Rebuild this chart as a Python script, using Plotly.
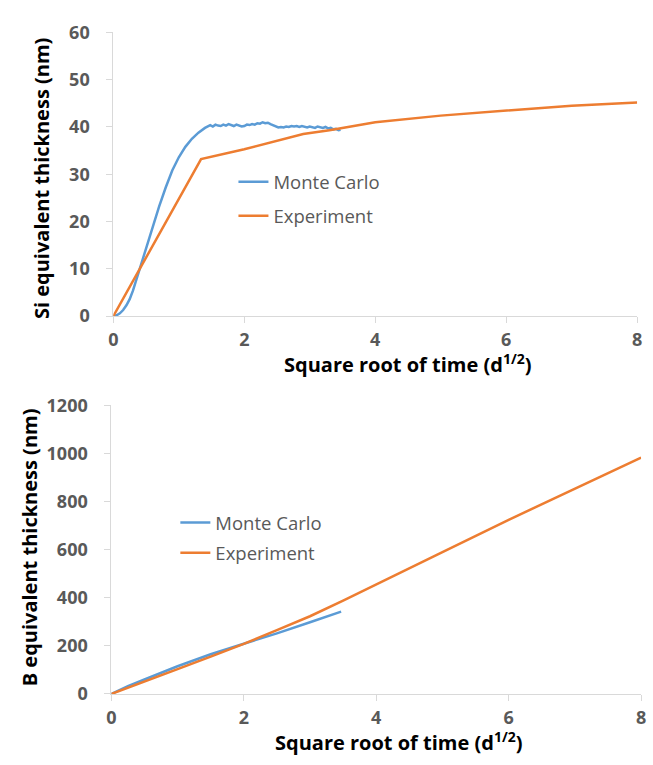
import plotly.graph_objects as go

# ---- Si equivalent thickness (top panel) ----
si_mc_x = [0, 0.05, 0.1, 0.15, 0.2, 0.25, 0.3, 0.35, 0.4, 0.5, 0.6, 0.7, 0.8, 0.9, 1.0,
           1.1, 1.2, 1.3, 1.4, 1.45, 1.48, 1.52, 1.56, 1.6, 1.64, 1.68, 1.72, 1.76, 1.8,
           1.84, 1.88, 1.92, 1.96, 2.0, 2.04, 2.08, 2.12, 2.16, 2.2, 2.24, 2.28, 2.32,
           2.36, 2.4, 2.44, 2.48, 2.52, 2.56, 2.6, 2.64, 2.68, 2.72, 2.76, 2.8, 2.84,
           2.88, 2.92, 2.96, 3.0, 3.04, 3.08, 3.12, 3.16, 3.2, 3.24, 3.28, 3.32, 3.36,
           3.4, 3.44, 3.47]
si_mc_y = [0, 0.2, 0.6, 1.3, 2.3, 3.6, 5.4, 7.6, 10.0, 14.6, 19.0, 23.2, 27.2, 30.8, 33.6,
           35.8, 37.5, 38.8, 39.8, 40.2, 40.4, 40.1, 40.5, 40.3, 40.2, 40.5, 40.3, 40.6, 40.4,
           40.2, 40.5, 40.3, 40.1, 40.2, 40.5, 40.4, 40.6, 40.5, 40.8, 40.7, 41.0, 40.8,
           40.9, 40.6, 40.4, 40.1, 39.9, 40.0, 39.9, 40.1, 40.0, 40.2, 40.1, 40.2, 40.0,
           40.2, 40.1, 39.9, 40.1, 40.0, 39.8, 40.1, 39.9, 39.8, 40.0, 39.7, 39.8, 39.5,
           39.6, 39.3, 39.4]

si_exp_x = [0, 1.34, 2.0, 2.5, 2.9, 3.3, 4.0, 5.0, 6.0, 7.0, 8.0]
si_exp_y = [0, 33.2, 35.3, 37.0, 38.5, 39.3, 41.0, 42.4, 43.5, 44.5, 45.2]

# ---- B equivalent thickness (bottom panel) ----
b_mc_x = [0, 0.25, 0.5, 1.0, 1.5, 2.0, 2.5, 3.0, 3.47]
b_mc_y = [0, 32, 60, 115, 165, 208, 252, 298, 342]

b_exp_x = [0, 0.5, 1.0, 1.5, 2.0, 2.5, 3.0, 3.5, 4.0, 5.0, 6.0, 7.0, 8.0]
b_exp_y = [0, 50, 103, 155, 208, 265, 323, 388, 456, 590, 724, 853, 982]

x_ticks = [0, 2, 4, 6, 8]
si_ticks = [0, 10, 20, 30, 40, 50, 60]
b_ticks = [0, 200, 400, 600, 800, 1000, 1200]

x_title = "Square root of time (d<sup>1/2</sup>)"
si_title = "Si equivalent thickness (nm)"
b_title = "B equivalent thickness (nm)"

BLUE = "#5B9BD5"
ORANGE = "#ED7D31"
GRAY = "#595959"
AXIS = "#D9D9D9"
FONT = "Open Sans"

W, H = 653, 765


def px_x(p):
    return p / W


def px_y(p):
    return 1 - p / H


fig = go.Figure()

fig.add_trace(go.Scatter(x=si_mc_x, y=si_mc_y, mode="lines", name="Monte Carlo",
                         line=dict(color=BLUE, width=2.5), xaxis="x", yaxis="y",
                         legend="legend", legendgroup="si_mc"))
fig.add_trace(go.Scatter(x=si_exp_x, y=si_exp_y, mode="lines", name="Experiment",
                         line=dict(color=ORANGE, width=2.5), xaxis="x", yaxis="y",
                         legend="legend", legendgroup="si_exp"))
fig.add_trace(go.Scatter(x=b_mc_x, y=b_mc_y, mode="lines", name="Monte Carlo",
                         line=dict(color=BLUE, width=2.5), xaxis="x2", yaxis="y2",
                         legend="legend2", legendgroup="b_mc"))
fig.add_trace(go.Scatter(x=b_exp_x, y=b_exp_y, mode="lines", name="Experiment",
                         line=dict(color=ORANGE, width=2.5), xaxis="x2", yaxis="y2",
                         legend="legend2", legendgroup="b_exp"))

tick_font = dict(family=FONT, size=18, color=GRAY, weight="bold")
axis_common = dict(showgrid=False, zeroline=False, showline=True, linecolor=AXIS,
                   linewidth=1, ticks="outside", tickcolor=AXIS, ticklen=6,
                   tickfont=tick_font)
legend_font = dict(family=FONT, size=18.5, color=GRAY)

fig.update_layout(
    width=W, height=H,
    margin=dict(l=0, r=0, t=0, b=0),
    paper_bgcolor="white", plot_bgcolor="white",
    showlegend=True,
    xaxis=dict(domain=[px_x(110), px_x(642)], range=[0, 8], tickvals=x_ticks,
               anchor="y", ticklabelstandoff=1, **axis_common),
    yaxis=dict(domain=[px_y(313), px_y(20)], range=[0, 60], tickvals=si_ticks,
               anchor="x", ticklabelstandoff=13, **axis_common),
    xaxis2=dict(domain=[px_x(108), px_x(646)], range=[0, 8], tickvals=x_ticks,
                anchor="y2", ticklabelstandoff=1, **axis_common),
    yaxis2=dict(domain=[px_y(703), px_y(405)], range=[0, 1200], tickvals=b_ticks,
                anchor="x2", ticklabelstandoff=13, **axis_common),
    legend=dict(x=px_x(232), y=px_y(155), xanchor="left", yanchor="top",
                bgcolor="rgba(0,0,0,0)", traceorder="grouped", tracegroupgap=7,
                font=legend_font),
    legend2=dict(x=px_x(173), y=px_y(507), xanchor="left", yanchor="top",
                 bgcolor="rgba(0,0,0,0)", traceorder="grouped", tracegroupgap=3,
                 font=legend_font),
)

title_font = dict(family=FONT, size=20, color="#000000", weight="bold")
annotations = [
    dict(text=x_title, x=px_x(409), y=px_y(362)),
    dict(text=x_title, x=px_x(400), y=px_y(752)),
    dict(text=si_title, x=px_x(37), y=px_y(171), textangle=-90),
    dict(text=b_title, x=px_x(25), y=px_y(552), textangle=-90),
]
for a in annotations:
    fig.add_annotation(xref="paper", yref="paper", xanchor="center", yanchor="middle",
                       showarrow=False, font=title_font, **a)

fig.write_html("out.html")
